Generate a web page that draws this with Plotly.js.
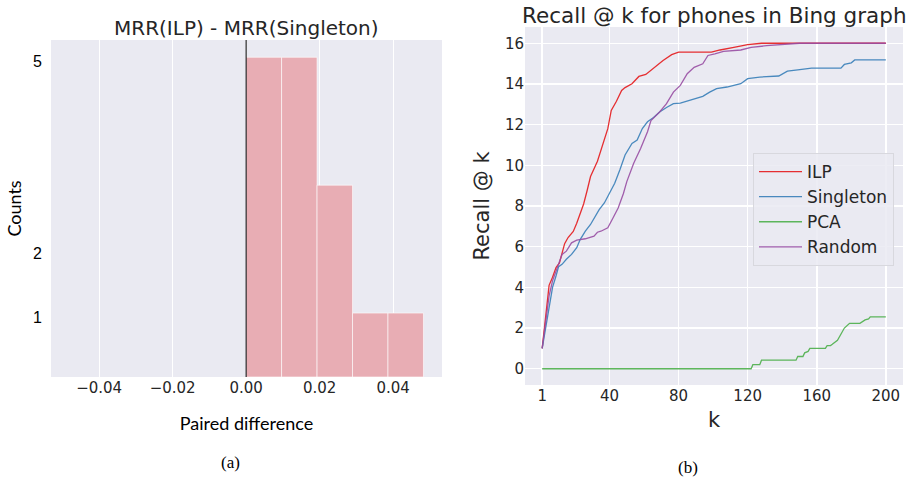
<!DOCTYPE html>
<html>
<head>
<meta charset="utf-8">
<script src="https://cdn.plot.ly/plotly-3.0.1.min.js"></script>
<style>
  html, body { margin: 0; padding: 0; background: #ffffff; }
  #chart { width: 908px; height: 480px; }
</style>
</head>
<body>
<div id="chart"></div>
<script>
// ---- Left panel: histogram of paired differences ----
const binStart = 0.0;
const binWidth = 0.00965;
const binCounts = [5, 5, 3, 1, 1];

// ---- Right panel: Recall @ k ----
const kILP = [1, 3, 5, 7, 9, 11, 12, 14, 16, 19, 21, 23, 25, 27, 29, 33, 36, 39, 41, 44, 47, 49, 53, 57, 61, 65, 71, 76, 80, 99, 104, 112, 120, 128, 200];
const recallILP = [1.0, 2.4, 4.1, 4.5, 4.97, 5.2, 5.5, 6.15, 6.45, 6.75, 7.15, 7.65, 8.1, 8.75, 9.45, 10.2, 11.0, 11.8, 12.7, 13.15, 13.68, 13.82, 14.01, 14.37, 14.47, 14.75, 15.15, 15.44, 15.56, 15.56, 15.67, 15.8, 15.93, 16.0, 16.0];

const kSingleton = [1, 3, 5, 7, 9, 10.5, 12.5, 15, 18, 21, 23, 26, 29, 31, 34, 37, 40, 43, 46, 49, 53, 56, 59, 62, 65.5, 69, 73, 77, 81, 87, 94, 98, 102, 108, 116, 120, 127, 138, 140, 143, 149, 157, 174, 176, 180, 182, 200];
const recallSingleton = [1.0, 1.95, 3.1, 4.0, 4.56, 5.02, 5.13, 5.38, 5.62, 5.95, 6.35, 6.76, 7.09, 7.41, 7.82, 8.15, 8.65, 9.12, 9.78, 10.51, 11.08, 11.24, 11.81, 12.14, 12.35, 12.62, 12.84, 13.03, 13.06, 13.2, 13.39, 13.6, 13.77, 13.85, 14.01, 14.26, 14.34, 14.39, 14.5, 14.63, 14.69, 14.78, 14.78, 14.96, 15.04, 15.18, 15.18];

const kPCA = [1, 122, 123, 127, 128, 148, 149, 152, 153, 155, 156, 165, 166, 168, 169, 172, 176, 179, 185, 186, 188, 190, 191, 200];
const recallPCA = [0, 0, 0.2, 0.2, 0.42, 0.42, 0.6, 0.6, 0.78, 0.85, 1.0, 1.0, 1.14, 1.14, 1.2, 1.4, 2.0, 2.23, 2.23, 2.3, 2.4, 2.45, 2.55, 2.55];

const kRandom = [1, 3, 5, 7, 9, 10.5, 12.5, 15, 18, 21, 26, 31, 33, 35, 39, 42, 45, 48, 50, 54, 58, 62, 64, 69, 73, 77, 81, 85, 89, 94, 97, 101, 106, 116, 122, 131, 138, 150, 200];
const recallRandom = [1.0, 2.28, 3.58, 4.32, 4.8, 5.21, 5.62, 5.78, 6.19, 6.32, 6.39, 6.52, 6.71, 6.76, 6.93, 7.41, 7.9, 8.6, 9.2, 10.1, 10.83, 11.65, 12.2, 12.62, 13.03, 13.6, 13.93, 14.5, 14.82, 14.99, 15.4, 15.48, 15.6, 15.67, 15.8, 15.88, 15.93, 16.0, 16.0];

const seriesNames = ['ILP', 'Singleton', 'PCA', 'Random'];
const seriesColors = ['#e41a1c', '#377eb8', '#4daf4a', '#984ea3'];
const xTicksRight = [1, 40, 80, 120, 160, 200];
const yTicksRight = [0, 2, 4, 6, 8, 10, 12, 14, 16];
const yTicksLeft = [1, 2, 5];
const xTicksLeft = [-0.04, -0.02, 0.0, 0.02, 0.04];

const binCenters = binCounts.map((c, i) => binStart + binWidth * (i + 0.5));

const W = 908, H = 480;
const px = v => v / W;
const py = v => 1 - v / H;

const histTrace = {
  type: 'bar',
  x: binCenters,
  y: binCounts,
  width: binCounts.map(() => binWidth),
  marker: { color: '#e8adb4', line: { color: 'rgba(255,255,255,0.6)', width: 1 } },
  xaxis: 'x', yaxis: 'y',
  showlegend: false,
  hoverinfo: 'x+y'
};

const kData = [kILP, kSingleton, kPCA, kRandom];
const rData = [recallILP, recallSingleton, recallPCA, recallRandom];
const lineTraces = seriesNames.map((n, i) => ({
  type: 'scatter', mode: 'lines',
  name: n,
  x: kData[i], y: rData[i],
  line: { color: seriesColors[i], width: 1.3 },
  opacity: 0.9,
  xaxis: 'x2', yaxis: 'y2'
}));

const tickFont = { family: 'DejaVu Sans', size: 15, color: '#262626' };

const layout = {
  width: W, height: H,
  margin: { l: 0, r: 0, t: 0, b: 0 },
  paper_bgcolor: '#ffffff',
  plot_bgcolor: '#eaeaf2',
  showlegend: true,
  bargap: 0,
  xaxis: {
    domain: [px(51), px(442)],
    anchor: 'y',
    range: [-0.0531, 0.0533],
    tickvals: xTicksLeft,
    tickformat: '.2f',
    showgrid: true, gridcolor: '#ffffff', gridwidth: 1,
    zeroline: false, showline: false, ticks: '',
    tickfont: tickFont,
    title: { text: 'Paired difference', font: { family: 'Lato', size: 18, color: '#000000' }, standoff: 21 }
  },
  yaxis: {
    domain: [py(377), py(40)],
    anchor: 'x',
    range: [0, 5.27],
    tickvals: yTicksLeft,
    showgrid: false, zeroline: false, showline: false, ticks: '',
    ticklabelshift: 4,
    ticklabelstandoff: 8,
    tickfont: { family: 'Liberation Sans', size: 16, color: '#000000' },
    title: { text: 'Counts', font: { family: 'Lato', size: 18, color: '#000000' }, standoff: 6 }
  },
  xaxis2: {
    domain: [px(525), px(903)],
    anchor: 'y2',
    range: [-8.95, 209.95],
    tickvals: xTicksRight,
    showgrid: true, gridcolor: '#ffffff', gridwidth: 1.5,
    zeroline: false, showline: false, ticks: '',
    tickfont: tickFont,
    title: { text: 'k', font: { family: 'DejaVu Sans', size: 21, color: '#262626' }, standoff: 8 }
  },
  yaxis2: {
    domain: [py(385), py(27)],
    anchor: 'x2',
    range: [-0.8, 16.8],
    tickvals: yTicksRight,
    showgrid: true, gridcolor: '#ffffff', gridwidth: 1.5,
    zeroline: false, showline: false, ticks: '',
    tickfont: tickFont,
    title: { text: 'Recall @ k', font: { family: 'DejaVu Sans', size: 21, color: '#262626' }, standoff: 9 }
  },
  legend: {
    x: px(753), y: py(153), xanchor: 'left', yanchor: 'top',
    bgcolor: 'rgba(234,234,242,0.85)',
    bordercolor: '#d8d8de', borderwidth: 1,
    font: { family: 'DejaVu Sans', size: 17, color: '#262626' },
    itemwidth: 43,
    tracegroupgap: 0
  },
  shapes: [{
    type: 'line', xref: 'x', yref: 'y domain',
    x0: 0, x1: 0, y0: 0, y1: 1,
    line: { color: '#000000', width: 1 }, layer: 'above'
  }],
  annotations: [
    { text: 'MRR(ILP) - MRR(Singleton)', xref: 'paper', yref: 'paper',
      x: px(246.5), y: py(28), xanchor: 'center', yanchor: 'middle', showarrow: false,
      font: { family: 'DejaVu Sans', size: 20, color: '#262626' } },
    { text: 'Recall @ k for phones in Bing graph', xref: 'paper', yref: 'paper',
      x: px(714), y: py(15), xanchor: 'center', yanchor: 'middle', showarrow: false,
      font: { family: 'DejaVu Sans', size: 21.5, color: '#262626' } },
    { text: '(a)', xref: 'paper', yref: 'paper',
      x: px(230), y: py(462), xanchor: 'center', yanchor: 'middle', showarrow: false,
      font: { family: 'Liberation Serif', size: 17, color: '#000000' } },
    { text: '(b)', xref: 'paper', yref: 'paper',
      x: px(688), y: py(467), xanchor: 'center', yanchor: 'middle', showarrow: false,
      font: { family: 'Liberation Serif', size: 17, color: '#000000' } }
  ]
};

Plotly.newPlot('chart', [histTrace].concat(lineTraces), layout, { displayModeBar: false, staticPlot: true });
</script>
</body>
</html>
